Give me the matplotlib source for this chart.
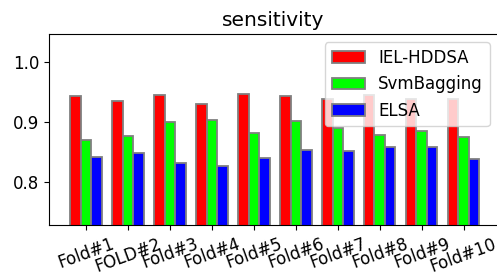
import matplotlib
matplotlib.use("Agg")
import matplotlib.pyplot as plt
import numpy as np

folds = ["Fold#1", "FOLD#2", "Fold#3", "Fold#4", "Fold#5", "Fold#6", "Fold#7", "Fold#8", "Fold#9", "Fold#10"]
iel_hddsa = [0.943, 0.935, 0.945, 0.930, 0.947, 0.943, 0.939, 0.945, 0.939, 0.939]
svm_bagging = [0.870, 0.876, 0.900, 0.904, 0.882, 0.902, 0.890, 0.878, 0.884, 0.875]
elsa = [0.842, 0.848, 0.831, 0.827, 0.839, 0.853, 0.851, 0.858, 0.858, 0.838]

fig = plt.figure(figsize=(4.97, 2.75), dpi=100)
ax = fig.add_axes([49/497, 1 - 225/275, 449/497, (225-34)/275])

x = np.arange(1, len(folds) + 1)
w = 0.25
ax.bar(x - w, iel_hddsa, w, color="#ff0000", edgecolor="gray", linewidth=1.3, label="IEL-HDDSA")
ax.bar(x, svm_bagging, w, color="#00ff00", edgecolor="gray", linewidth=1.3, label="SvmBagging")
ax.bar(x + w, elsa, w, color="#0000ff", edgecolor="gray", linewidth=1.3, label="ELSA")

ax.set_xticks(x)
ax.set_xticklabels(folds, rotation=20, fontsize=12)
ax.set_yticks([0.8, 0.9, 1.0])
ax.tick_params(axis="y", labelsize=12)
ax.set_ylim(0.7276, 1.047)
ax.set_xlim(0.115, 10.82)
ax.set_title("sensitivity", fontsize=14.5)
ax.legend(loc="upper right", fontsize=12)

fig.savefig("out.png", dpi=100)
